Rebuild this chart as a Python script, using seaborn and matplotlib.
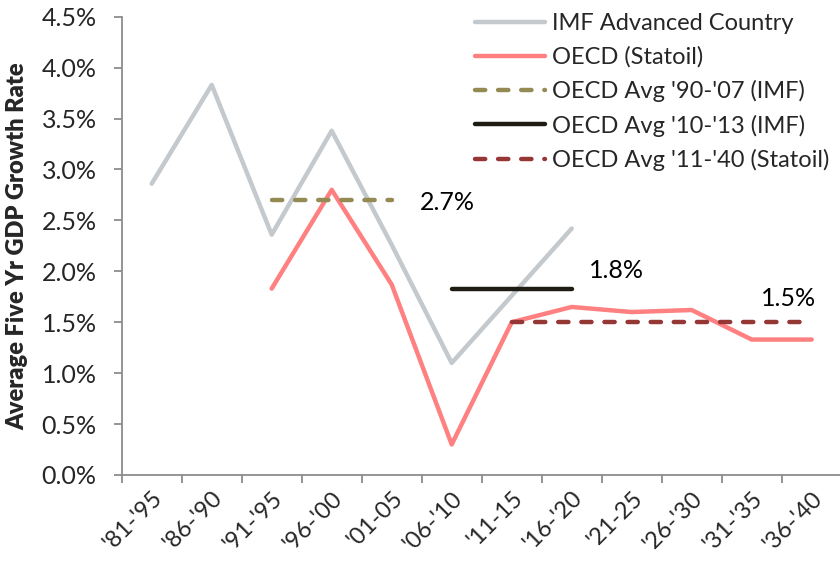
import numpy as np
import matplotlib
matplotlib.use("Agg")
import matplotlib.pyplot as plt
import seaborn as sns
from matplotlib.ticker import FuncFormatter, FixedLocator

# Five-year periods on the category axis
periods = ["'81-'95", "'86-'90", "'91-'95", "'96-'00", "'01-05", "'06-'10",
           "'11-15", "'16-'20", "'21-25", "'26-'30", "'31-'35", "'36-'40"]

# Average five-year GDP growth rate, percent
imf_periods = periods[:8]
imf_advanced = [2.86, 3.83, 2.36, 3.38, 2.26, 1.10, 1.76, 2.42]

oecd_periods = periods[2:]
oecd_statoil = [1.83, 2.80, 1.87, 0.30, 1.50, 1.65, 1.60, 1.62, 1.33, 1.33]

# Reference averages and the periods they span
avg_90_07 = 2.70
avg_90_07_span = ["'91-'95", "'01-05"]
avg_10_13 = 1.83
avg_10_13_span = ["'06-'10", "'16-'20"]
avg_11_40 = 1.50
avg_11_40_span = ["'11-15", "'36-'40"]

sns.set_style("white")
plt.rcParams["font.family"] = ["Lato", "DejaVu Sans"]

W, H, DPI = 840, 563, 100
fig = plt.figure(figsize=(W / DPI, H / DPI), dpi=DPI)
ax = fig.add_axes([121.7 / W, 1 - 475 / H, 720 / W, 458.3 / H])

pos = {p: i for i, p in enumerate(periods)}
LW = 3.2


def draw(cats, vals, color, label, dashed=False):
    sns.lineplot(x=[pos[c] for c in cats], y=vals, ax=ax, color=color,
                 linewidth=LW, label=label, solid_capstyle="round",
                 solid_joinstyle="round")
    line = ax.lines[-1]
    if dashed:
        line.set_dashes([2.3, 2.9])
        line.set_dash_capstyle("round")
    return line


draw(imf_periods, imf_advanced, "#C4C9CE", "IMF Advanced Country")
draw(oecd_periods, oecd_statoil, "#FF8080", "OECD (Statoil)")
draw(avg_90_07_span, [avg_90_07] * 2, "#948A54", "OECD Avg '90-'07 (IMF)", dashed=True)
draw(avg_10_13_span, [avg_10_13] * 2, "#1E1C13", "OECD Avg '10-'13 (IMF)")
draw(avg_11_40_span, [avg_11_40] * 2, "#953735", "OECD Avg '11-'40 (Statoil)", dashed=True)

# Value labels for the averages
lab_kw = dict(textcoords="offset pixels", fontsize=18, color="black", va="center")
ax.annotate(f"{avg_90_07:.1f}%", (pos[avg_90_07_span[1]], avg_90_07),
            xytext=(28, -2), ha="left", **lab_kw)
ax.annotate(f"{avg_10_13:.1f}%", (pos[avg_10_13_span[1]], avg_10_13),
            xytext=(17, 18), ha="left", **lab_kw)
ax.annotate(f"{avg_11_40:.1f}%", (pos[avg_11_40_span[1]], avg_11_40),
            xytext=(4, 24), ha="right", **lab_kw)

# Axes
ax.set_xlim(-0.5, len(periods) - 0.5)
ax.set_ylim(0, 4.5)
ax.set_yticks(np.arange(0, 4.51, 0.5))
ax.yaxis.set_major_formatter(FuncFormatter(lambda v, _: f"{v:.1f}%"))

ax.xaxis.set_major_locator(FixedLocator(np.arange(-0.5, len(periods), 1)))
ax.xaxis.set_minor_locator(FixedLocator(np.arange(len(periods))))
ax.set_xticklabels([], minor=False)
ax.set_xticklabels(periods, minor=True, rotation=45, ha="right",
                   rotation_mode="anchor", fontsize=17)

spine_c = "#8C8C8C"
for s in ["top", "right"]:
    ax.spines[s].set_visible(False)
for s in ["left", "bottom"]:
    ax.spines[s].set_color(spine_c)
    ax.spines[s].set_linewidth(1.3)

ax.tick_params(axis="y", which="major", direction="out", length=6, width=1.3,
               color=spine_c, labelsize=18, pad=12, left=True)
ax.tick_params(axis="x", which="major", direction="out", length=6, width=1.3,
               color=spine_c, bottom=True)
ax.tick_params(axis="x", which="minor", length=0, pad=9, bottom=True)

ax.set_xlabel("")
ax.set_ylabel("Average Five Yr GDP Growth Rate", fontsize=17, fontweight="heavy")
ax.yaxis.set_label_coords(-0.130, 0.5)

ax.legend(loc="upper left", bbox_to_anchor=(475 / W, 1 - 13 / H),
          bbox_transform=fig.transFigure, frameon=False, fontsize=17,
          handlelength=2.95, handletextpad=0.3, labelspacing=0.52,
          borderpad=0, borderaxespad=0)

fig.savefig("out.png", dpi=DPI)
